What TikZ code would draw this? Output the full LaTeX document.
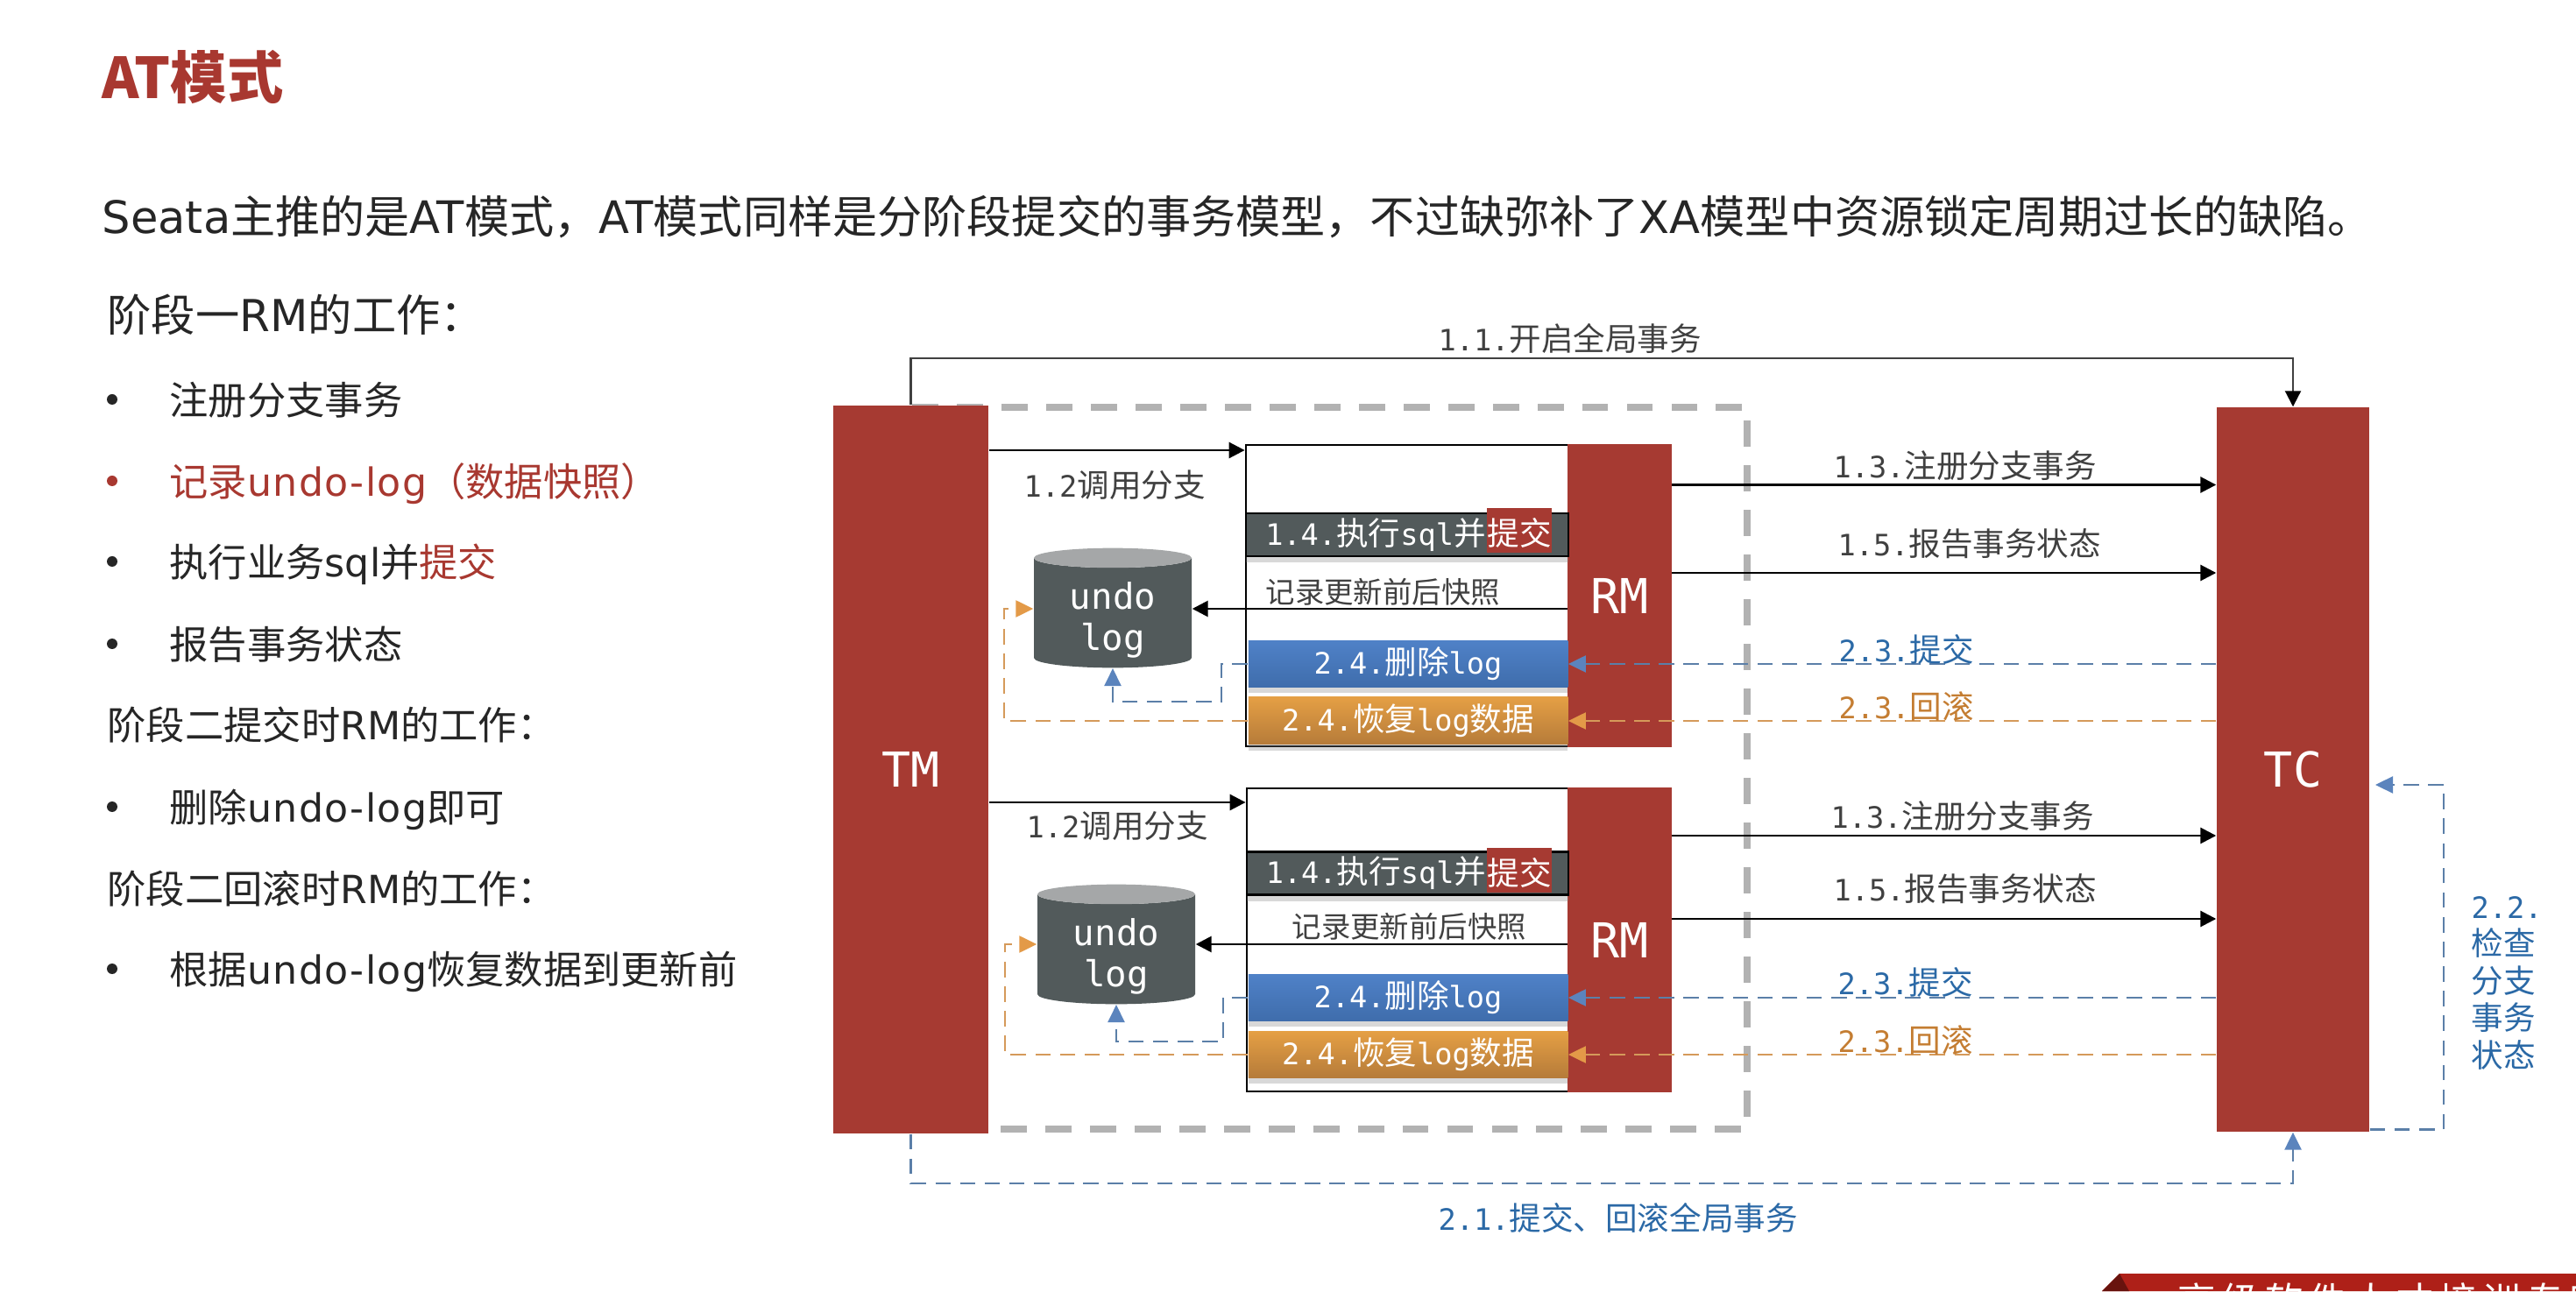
\documentclass[tikz,border=0pt]{standalone}
\usepackage{fontspec}
\setmainfont{Noto Sans CJK SC}
\setmonofont[Scale=0.92]{DejaVu Sans Mono}
\newfontfamily\latinfont{DejaVu Sans}
\newfontfamily\widefont[LetterSpace=3]{DejaVu Sans}
\newfontfamily\bannerfont[LetterSpace=14]{Noto Sans CJK SC}
\usetikzlibrary{arrows.meta,shapes.geometric,shadows}
\definecolor{tmred}{HTML}{A63A32}
\definecolor{titlered}{HTML}{A83830}
\definecolor{slate}{HTML}{525A5B}
\definecolor{lidgray}{HTML}{A5A7A8}
\definecolor{lblgray}{HTML}{404040}
\definecolor{txtgray}{HTML}{262626}
\definecolor{stepblue}{HTML}{2B69A6}
\definecolor{linkblue}{HTML}{5B7FA8}
\definecolor{tipblue}{HTML}{5B84BD}
\definecolor{steporange}{HTML}{C47D32}
\definecolor{linkorange}{HTML}{D59A5A}
\definecolor{tiporange}{HTML}{E39A48}
\definecolor{bartop}{HTML}{4F81C7}
\definecolor{barbot}{HTML}{3F6DAC}
\definecolor{bannerred}{HTML}{AE2018}
\newcommand{\lt}[1]{\texttt{#1}}
\newcommand{\la}[1]{{\latinfont #1}}
\newcommand{\lu}{{\widefont undo-log}}
\newcommand{\lfont}{\fontsize{10.4}{12.1}\selectfont}
\newcommand{\bfont}{\fontsize{12.6}{15}\selectfont}

\begin{document}
\begin{tikzpicture}[
      ar/.style={-{Triangle[length=1.8mm,width=1.8mm]},line width=0.8pt,black},
      dashb/.style={-{Triangle[length=2mm,width=1.9mm,color=tipblue]},line width=0.7pt,linkblue,dash pattern=on 5pt off 3pt},
      dasho/.style={-{Triangle[length=2mm,width=1.9mm,color=tiporange]},line width=0.7pt,linkorange,dash pattern=on 5pt off 3pt},
      role/.style={rectangle,fill=tmred,text=white,inner sep=0pt,font=\fontsize{17}{20}\selectfont\ttfamily},
      lb/.style={anchor=west,inner sep=0pt,text=lblgray,font=\lfont},
      lbs/.style={lb,font=\fontsize{9.5}{12}\selectfont},
      lbb/.style={lb,text=stepblue},
      lbo/.style={lb,text=steporange},
      tx/.style={anchor=west,inner sep=0pt,text=txtgray,font=\bfont,text height=.43cm,text depth=.08cm},
      bu/.style={circle,fill=txtgray,inner sep=0pt,minimum size=1.2mm},
      barsql/.style={rectangle,draw=black,line width=0.7pt,fill=slate,text=white,font=\lfont,
                 align=left,text width=3.235cm,inner xsep=.22cm,inner ysep=0pt,minimum height=.49cm,
                 drop shadow={opacity=.3,shadow xshift=0cm,shadow yshift=-.07cm}},
      hl/.style={rectangle,fill=tmred,text=white,font=\lfont,inner sep=0pt,minimum width=.70cm,
                 text height=.43cm,text depth=.08cm},
      barb/.style={rectangle,top color=bartop,bottom color=barbot,text=white,font=\lfont,inner sep=0pt,
                 minimum width=3.645cm,minimum height=.525cm,
                 drop shadow={opacity=.3,shadow xshift=0cm,shadow yshift=-.07cm}},
      undo/.style={cylinder,shape border rotate=90,aspect=.23,draw=none,cylinder uses custom fill,
                 cylinder body fill=slate,cylinder end fill=lidgray,text=white,inner sep=0pt,
                 minimum width=1.80cm,minimum height=1.32cm,align=center,
                 font=\fontsize{12.6}{13.2}\selectfont\ttfamily},
      box/.style={rectangle,draw=black,line width=0.8pt,fill=white,inner sep=0pt}]

    \useasboundingbox (0,0) rectangle (29.40,14.74);

    % ================= text on the left =================
    \node[anchor=west,inner sep=0pt,text=titlered,font=\fontsize{18.3}{22}\selectfont\bfseries] (title) at (1.16,13.86) {AT模式};
    \node[tx,font=\fontsize{14.55}{16}\selectfont] (intro) at (1.16,12.25)
      {\la{Seata}主推的是\la{AT}模式，\la{AT}模式同样是分阶段提交的事务模型，不过缺弥补了\la{XA}模型中资源锁定周期过长的缺陷。};
    \node[tx,font=\fontsize{14.3}{16}\selectfont] (headA) at (1.22,11.13) {阶段一\la{RM}的工作：};
    \node[bu] (dotA) at (1.28,10.18) {};
    \node[tx] (itemA) at (1.93,10.18) {注册分支事务};
    \node[bu,fill=titlered] (dotB) at (1.28,9.25) {};
    \node[tx,text=titlered] (itemB) at (1.93,9.25) {记录\lu（数据快照）};
    \node[bu] (dotC) at (1.28,8.33) {};
    \node[tx] (itemC) at (1.93,8.33) {执行业务\la{sql}并{\color{titlered}提交}};
    \node[bu] (dotD) at (1.28,7.39) {};
    \node[tx] (itemD) at (1.93,7.39) {报告事务状态};
    \node[tx] (headB) at (1.22,6.47) {阶段二提交时\la{RM}的工作：};
    \node[bu] (dotE) at (1.28,5.53) {};
    \node[tx] (itemE) at (1.93,5.53) {删除\lu 即可};
    \node[tx] (headC) at (1.22,4.60) {阶段二回滚时\la{RM}的工作：};
    \node[bu] (dotF) at (1.28,3.68) {};
    \node[tx] (itemF) at (1.93,3.68) {根据\lu 恢复数据到更新前};

    % ================= outer dashed frame, TM and TC =================
    \node[rectangle,draw=black!30,line width=2pt,dash pattern=on 8.5pt off 6pt,minimum width=9.54cm,minimum height=8.24cm,inner sep=0pt] (frame) at (15.17,5.97) {};
    \node[role,minimum width=1.77cm,minimum height=8.31cm] (tm) at (10.395,5.955) {TM};
    \node[role,minimum width=1.74cm,minimum height=8.27cm] (tc) at (26.17,5.955) {TC};

    % ================= upper branch =================
    \node[box,minimum width=3.68cm,minimum height=3.44cm] (boxA) at (16.06,7.94) {};
    \node[role,minimum width=1.185cm,minimum height=3.46cm] (rmA) at (18.485,7.94) {RM};
    \node[barsql] (barA) at (16.06,8.635) {\lt{1.4.}执行\lt{sql}并};
    \node[hl] (redA) at (17.34,8.685) {提交};
    \node[undo] (undoA) at (12.70,7.74) {\rule{0pt}{.47cm}undo\\log};
    \node[barb,minimum height=.525cm] (blueA) at (16.07,7.16) {\lt{2.4.}删除\lt{log}};
    \node[barb,top color=tiporange!95!yellow,bottom color=tiporange!80!black,minimum height=.54cm] (orangeA) at (16.07,6.51) {\lt{2.4.}恢复\lt{log}数据};

    \coordinate (inA) at (12,9.60);
    \coordinate (regA) at (22,9.205);
    \coordinate (repA) at (22,8.20);
    \coordinate (snapA) at (14,7.79);
    \coordinate (bendA) at (13.94,6.73);
    \coordinate (bendC) at (11.46,6.73);

    \draw[ar] (tm.east |- inA) -- (boxA.west |- inA);
    \draw[ar] (rmA.east |- regA) -- (tc.west |- regA);
    \draw[ar] (rmA.east |- repA) -- (tc.west |- repA);
    \draw[ar] (rmA.west |- snapA) -- (undoA.east |- snapA);
    \draw[dashb] (tc.west |- blueA) -- (blueA.east);
    \draw[dasho] (tc.west |- orangeA) -- (orangeA.east);
    \draw[dashb] (blueA.west) -| (bendA) -| (undoA.south);
    \draw[dasho] (orangeA.west) -| (bendC) |- (undoA.west |- snapA);

    \node[lb] (callA) at (11.68,9.20) {\lt{1.2}调用分支};
    \node[lbs] (snapAlbl) at (14.44,7.98) {记录更新前后快照};
    \node[lb] (regAlbl) at (20.92,9.42) {\lt{1.3.}注册分支事务};
    \node[lb] (repAlbl) at (20.97,8.53) {\lt{1.5.}报告事务状态};
    \node[lbb] (comAlbl) at (20.98,7.33) {\lt{2.3.}提交};
    \node[lbo] (rolAlbl) at (20.98,6.67) {\lt{2.3.}回滚};

    % ================= lower branch =================
    \node[box,minimum width=3.67cm,minimum height=3.46cm] (boxB) at (16.065,4.01) {};
    \node[role,minimum width=1.185cm,minimum height=3.48cm] (rmB) at (18.485,4.01) {RM};
    \node[barsql] (barB) at (16.065,4.77) {\lt{1.4.}执行\lt{sql}并};
    \node[hl] (redB) at (17.34,4.805) {提交};
    \node[undo] (undoB) at (12.74,3.90) {\rule{0pt}{.47cm}undo\\log};
    \node[barb] (blueB) at (16.07,3.35) {\lt{2.4.}删除\lt{log}};
    \node[barb,top color=tiporange!95!yellow,bottom color=tiporange!80!black] (orangeB) at (16.07,2.70) {\lt{2.4.}恢复\lt{log}数据};

    \coordinate (inB) at (12,5.58);
    \coordinate (regB) at (22,5.20);
    \coordinate (repB) at (22,4.25);
    \coordinate (snapB) at (14,3.96);
    \coordinate (bendB) at (13.96,2.85);
    \coordinate (bendD) at (11.47,2.85);

    \draw[ar] (tm.east |- inB) -- (boxB.west |- inB);
    \draw[ar] (rmB.east |- regB) -- (tc.west |- regB);
    \draw[ar] (rmB.east |- repB) -- (tc.west |- repB);
    \draw[ar] (rmB.west |- snapB) -- (undoB.east |- snapB);
    \draw[dashb] (tc.west |- blueB) -- (blueB.east);
    \draw[dasho] (tc.west |- orangeB) -- (orangeB.east);
    \draw[dashb] (blueB.west) -| (bendB) -| (undoB.south);
    \draw[dasho] (orangeB.west) -| (bendD) |- (undoB.west |- snapB);

    \node[lb] (callB) at (11.71,5.31) {\lt{1.2}调用分支};
    \node[lbs] (snapBlbl) at (14.74,4.16) {记录更新前后快照};
    \node[lb] (regBlbl) at (20.89,5.42) {\lt{1.3.}注册分支事务};
    \node[lb] (repBlbl) at (20.92,4.59) {\lt{1.5.}报告事务状态};
    \node[lbb] (comBlbl) at (20.97,3.525) {\lt{2.3.}提交};
    \node[lbo] (rolBlbl) at (20.97,2.86) {\lt{2.3.}回滚};

    % ================= global links =================
    \coordinate (topline) at (18,10.65);
    \coordinate (botline) at (18,1.23);
    \coordinate (loopB) at (27.89,1.845);
    \coordinate (loopU) at (27.89,5.78);
    \coordinate (loopT) at (27.11,5.78);

    \draw[ar,line width=0.6pt,lblgray,-{Triangle[length=1.8mm,width=1.8mm,color=black]}] (tm.north) |- (topline) -| (tc.north);
    \draw[dashb] (tm.south) |- (botline) -| (tc.south);
    \draw[dashb] (tc.east |- loopB) -- (loopB) -- (loopU) -- (loopT);

    \node[lb] (openlbl) at (16.41,10.88) {\lt{1.1.}开启全局事务};
    \node[lbb] (endlbl) at (16.41,0.835) {\lt{2.1.}提交、回滚全局事务};
    \node[lbb,align=left] (checklbl) at (28.20,3.52) {\lt{2.2.}\\检查\\分支\\事务\\状态};

    % ================= banner, cut by the page =================
    \fill[bannerred] (24.19,0.20) -- (29.40,0.20) -- (29.40,0) -- (23.99,0) -- cycle;
    \fill[bannerred!60!black] (24.19,0.20) -- (24.30,0) -- (23.99,0) -- cycle;
    \node[anchor=north west,inner sep=0pt,text=white,font=\fontsize{12.4}{14}\bannerfont] (bannerlbl) at (24.85,0.10) {高级软件人才培训专家};
\end{tikzpicture}
\end{document}
